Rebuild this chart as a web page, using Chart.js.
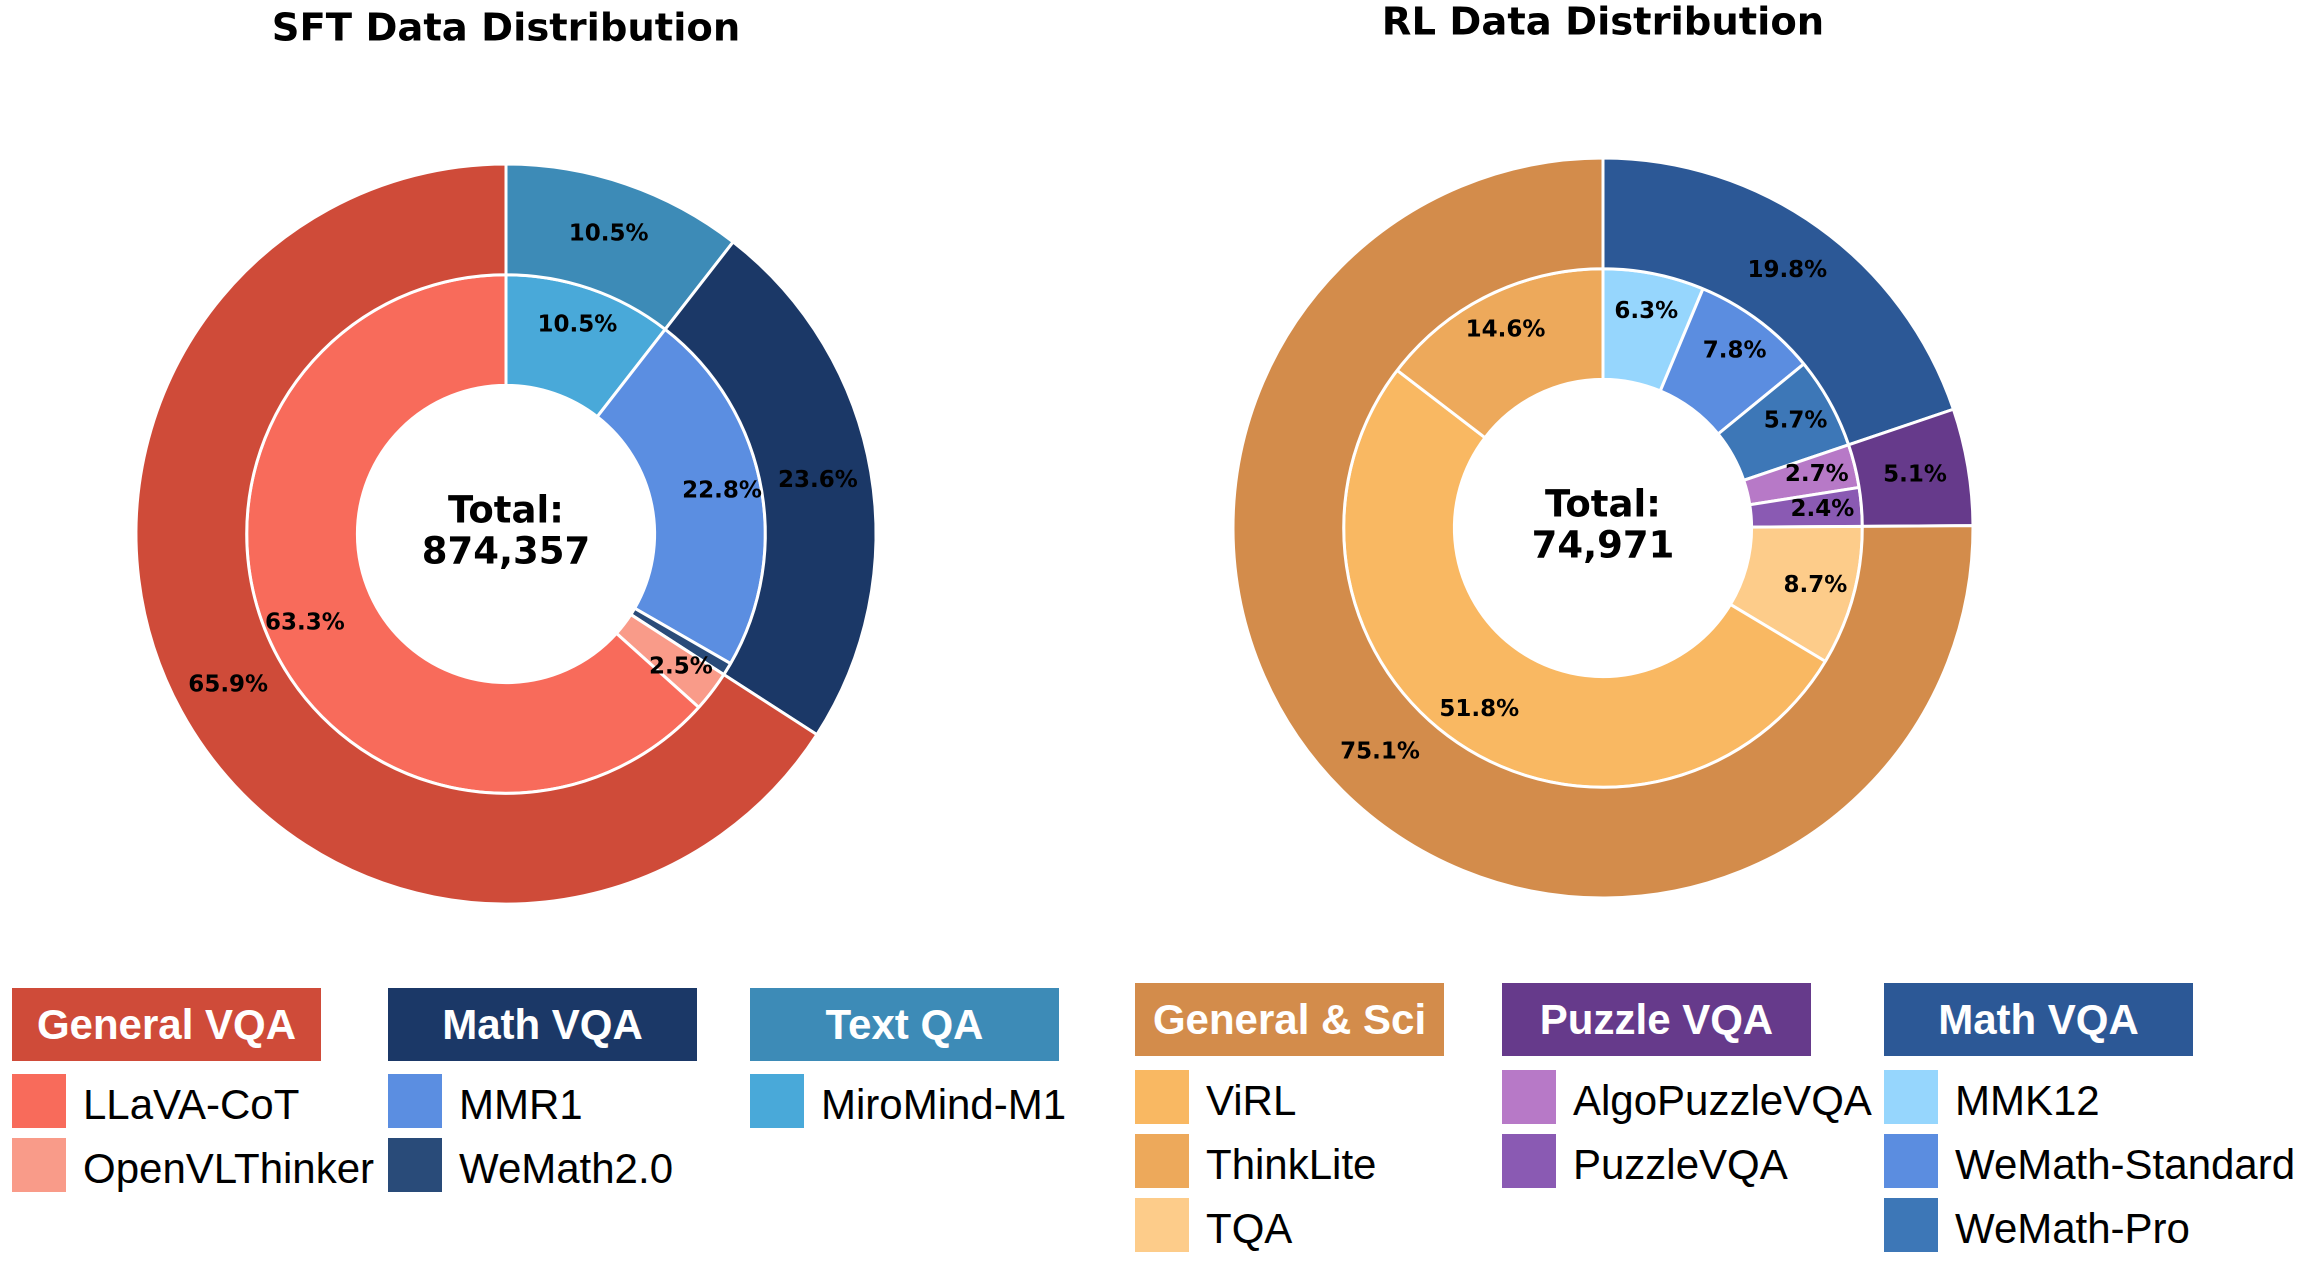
<!DOCTYPE html>
<html lang="en">
<head>
  <meta charset="UTF-8" />
  <title>SFT / RL Data Distribution</title>
  <script src="https://cdn.jsdelivr.net/npm/chart.js"></script>
  <style>
    body { margin: 0; background: #fff; }
    #page { position: relative; width: 2312px; height: 1264px; overflow: hidden; background: #fff; }
    #charts { position: absolute; left: 0; top: 0; width: 2312px; height: 1040px; }
    #charts canvas { position: absolute; top: 0; }
    .group-head { position: absolute; width: 309px; height: 73px; text-align: center; color: #fff;
                  font: bold 42px "Liberation Sans", Arial, sans-serif; line-height: 73px; }
    .swatch { position: absolute; width: 54px; height: 54px; }
    .item { position: absolute; height: 54px; white-space: nowrap; color: #000;
            font: 42px "Liberation Sans", Arial, sans-serif; line-height: 54px; }
  </style>
</head>
<body>
  <div id="page">
    <div id="charts">
      <canvas id="sftChart" width="1000" height="1040" style="left: 5.5px;"></canvas>
      <canvas id="rlChart" width="1000" height="1040" style="left: 1103px;"></canvas>
    </div>
    <div id="legend"></div>
  </div>

  <script>
    // ring data, listed clockwise from 12 o'clock (values in %)
    const sftOuterLabels = ['Text QA', 'Math VQA', 'General VQA'];
    const sftOuterValues = [10.52, 23.60, 65.88];
    const sftOuterColors = ['#3d8bb7', '#1b3867', '#cf4b39'];
    const sftInnerLabels = ['MiroMind-M1', 'MMR1', 'WeMath2.0', 'OpenVLThinker', 'LLaVA-CoT'];
    const sftInnerValues = [10.52, 22.81, 0.79, 2.54, 63.34];
    const sftInnerColors = ['#49a9d9', '#5b8ee1', '#294b79', '#f99b89', '#f86b5b'];
    const sftTotal = 874357;

    const rlOuterLabels = ['Math VQA', 'Puzzle VQA', 'General & Sci'];
    const rlOuterValues = [19.8, 5.1, 75.1];
    const rlOuterColors = ['#2c5896', '#663a8b', '#d38c4b'];
    const rlInnerLabels = ['MMK12', 'WeMath-Standard', 'WeMath-Pro', 'AlgoPuzzleVQA', 'PuzzleVQA', 'TQA', 'ViRL', 'ThinkLite'];
    const rlInnerValues = [6.3, 7.8, 5.7, 2.7, 2.4, 8.7, 51.8, 14.6];
    const rlInnerColors = ['#96d6fd', '#5b8de0', '#3d77b7', '#b779c7', '#8a5ab3', '#fdcc8a', '#f9b862', '#eda95b'];
    const rlTotal = 74971;

    // legend layout (groups in legend order)
    const sftLegendGroups = ['General VQA', 'Math VQA', 'Text QA'];
    const sftLegendItems = [['LLaVA-CoT', 'OpenVLThinker'], ['MMR1', 'WeMath2.0'], ['MiroMind-M1']];
    const rlLegendGroups = ['General & Sci', 'Puzzle VQA', 'Math VQA'];
    const rlLegendItems = [['ViRL', 'ThinkLite', 'TQA'], ['AlgoPuzzleVQA', 'PuzzleVQA'], ['MMK12', 'WeMath-Standard', 'WeMath-Pro']];

    const RADIUS = 370;

    // percentage labels on the wedges + total in the hole
    const ringText = {
      id: 'ringText',
      afterDatasetsDraw(chart, args, opts) {
        const ctx = chart.ctx;
        ctx.save();
        ctx.fillStyle = '#000';
        ctx.textAlign = 'center';
        ctx.textBaseline = 'middle';
        ctx.font = 'bold 23px "DejaVu Sans"';
        let cx = 0, cy = 0;
        chart.data.datasets.forEach((ds, i) => {
          const sum = ds.data.reduce((a, b) => a + b, 0);
          const dist = (i === 0 ? 0.855 : 0.595) * RADIUS;
          chart.getDatasetMeta(i).data.forEach((arc, j) => {
            cx = arc.x; cy = arc.y;
            const pct = ds.data[j] / sum * 100;
            if (pct < 2) return;
            const mid = (arc.startAngle + arc.endAngle) / 2;
            ctx.fillText(pct.toFixed(1) + '%', arc.x + Math.cos(mid) * dist, arc.y + Math.sin(mid) * dist);
          });
        });
        ctx.font = 'bold 37px "DejaVu Sans"';
        ctx.fillText('Total:', cx, cy - 21);
        ctx.fillText(opts.total.toLocaleString('en-US'), cx, cy + 20);
        ctx.restore();
      }
    };

    function makeRing(id, title, total, outer, inner, titlePad, bottomPad) {
      return new Chart(document.getElementById(id), {
        type: 'doughnut',
        data: {
          labels: inner.labels,
          datasets: [
            { data: outer.values, backgroundColor: outer.colors, borderColor: '#fff', borderWidth: 3 },
            { data: inner.values, backgroundColor: inner.colors, borderColor: '#fff', borderWidth: 3 }
          ]
        },
        options: {
          responsive: false,
          animation: false,
          devicePixelRatio: 2,
          radius: RADIUS,
          cutout: 0.4 * RADIUS,
          layout: { padding: { top: 0, bottom: bottomPad, left: 0, right: 0 } },
          plugins: {
            legend: { display: false },
            tooltip: { enabled: false },
            title: {
              display: true,
              text: title,
              color: '#000',
              font: { family: 'DejaVu Sans', size: 38.5, weight: 'bold', lineHeight: 1 },
              padding: titlePad
            },
            ringText: { total: total }
          }
        },
        plugins: [ringText]
      });
    }

    makeRing('sftChart', 'SFT Data Distribution', sftTotal,
      { values: sftOuterValues, colors: sftOuterColors },
      { labels: sftInnerLabels, values: sftInnerValues, colors: sftInnerColors },
      { top: 11, bottom: 114.5 }, 136);

    makeRing('rlChart', 'RL Data Distribution', rlTotal,
      { values: rlOuterValues, colors: rlOuterColors },
      { labels: rlInnerLabels, values: rlInnerValues, colors: rlInnerColors },
      { top: 5, bottom: 114.5 }, 142);

    // two-level legend under the pies
    function buildLegend(groups, items, outerLabels, outerColors, innerLabels, innerColors, colX, headTop, rowTop, rowStep) {
      const box = document.getElementById('legend');
      groups.forEach((g, k) => {
        const head = document.createElement('div');
        head.className = 'group-head';
        head.textContent = g;
        head.style.left = colX[k] + 'px';
        head.style.top = headTop + 'px';
        head.style.background = outerColors[outerLabels.indexOf(g)];
        box.appendChild(head);
        items[k].forEach((name, r) => {
          const top = rowTop + r * rowStep;
          const sw = document.createElement('div');
          sw.className = 'swatch';
          sw.style.left = colX[k] + 'px';
          sw.style.top = top + 'px';
          sw.style.background = innerColors[innerLabels.indexOf(name)];
          box.appendChild(sw);
          const txt = document.createElement('div');
          txt.className = 'item';
          txt.textContent = name;
          txt.style.left = (colX[k] + 71) + 'px';
          txt.style.top = (top + 4) + 'px';
          box.appendChild(txt);
        });
      });
    }

    buildLegend(sftLegendGroups, sftLegendItems, sftOuterLabels, sftOuterColors, sftInnerLabels, sftInnerColors,
      [12, 388, 750], 988, 1074, 64.3);
    buildLegend(rlLegendGroups, rlLegendItems, rlOuterLabels, rlOuterColors, rlInnerLabels, rlInnerColors,
      [1135, 1502, 1884], 983, 1070, 64);
  </script>
</body>
</html>
